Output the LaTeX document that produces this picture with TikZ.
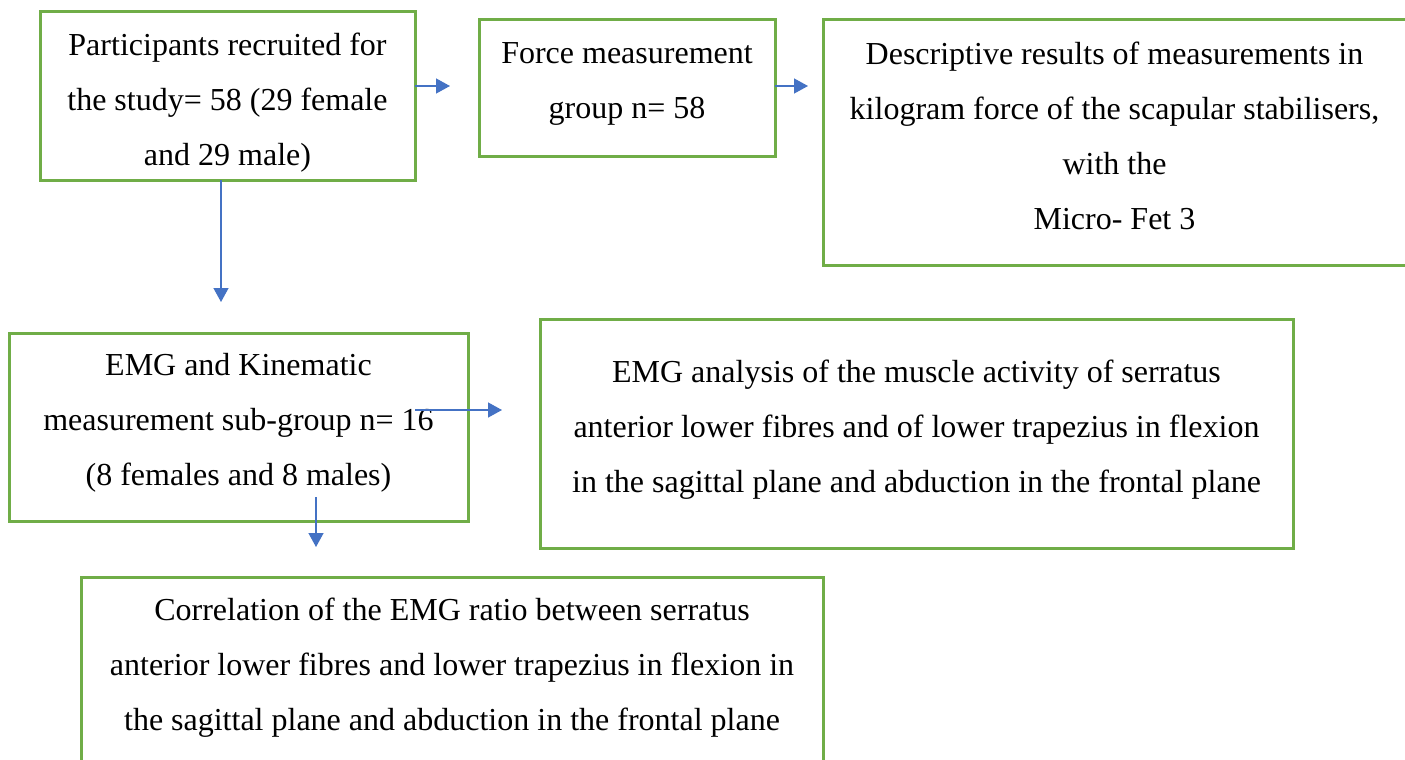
\documentclass[tikz,border=0pt]{standalone}
\usepackage{fontspec}
\setmainfont{Liberation Serif}
\usetikzlibrary{arrows.meta}
\definecolor{boxgreen}{HTML}{70AD47}
\definecolor{arrowblue}{HTML}{4472C4}
\tikzset{
  box/.style={draw=boxgreen, line width=3pt, rectangle, anchor=north west, inner sep=0pt, outer sep=0pt},
  txt/.style={align=center, font=\fontsize{32}{55}\selectfont, inner sep=0pt},
  conn/.style={draw=arrowblue, line width=1.4pt, -{Triangle[length=14pt,width=15pt]}}
}
\begin{document}
\begin{tikzpicture}[x=1pt,y=-1pt]
\useasboundingbox (0,0) rectangle (1405,760);
% boxes
\node[box, minimum width=375pt, minimum height=168pt] (b1) at (40,12) {};
\node[box, minimum width=296pt, minimum height=136pt] (b2) at (479,20) {};
\node[box, minimum width=583pt, minimum height=245pt] (b3) at (823,20) {};
\node[box, minimum width=459pt, minimum height=188pt] (b4) at (9,333) {};
\node[box, minimum width=753pt, minimum height=229pt] (b5) at (540,319) {};
\node[box, minimum width=742pt, minimum height=186pt] (b6) at (81,577) {};
% texts
\node[txt] (t1) at (227.5,102.5) {Participants recruited for\\the study= 58 (29 female\\and 29 male)};
\node[txt] (t2) at (627,83.5) {Force measurement\\group n= 58};
\node[txt] (t3) at (1114.5,136) {Descriptive results of measurements in\\kilogram force of the scapular stabilisers,\\with the\\Micro- Fet 3};
\node[txt] (t4) at (238.5,423) {EMG and Kinematic\\measurement sub-group n= 16\\(8 females and 8 males)};
\node[txt] (t5) at (916.5,429.5) {EMG analysis of the muscle activity of serratus\\anterior lower fibres and of lower trapezius in flexion\\in the sagittal plane and abduction in the frontal plane};
\node[txt] (t6) at (452,667.5) {Correlation of the EMG ratio between serratus\\anterior lower fibres and lower trapezius in flexion in\\the sagittal plane and abduction in the frontal plane};
% arrow end points
\coordinate (e1) at (450,86);
\coordinate (e2) at (808,86);
\coordinate (e3) at (221,302);
\coordinate (s4) at (415,410);
\coordinate (e4) at (502,410);
\coordinate (s5) at (316,497);
\coordinate (e5) at (316,547);
% connectors
\draw[conn] (b1.east |- e1) -- (e1);
\draw[conn] (b2.east |- e2) -- (e2);
\draw[conn] (b1.south -| e3) -- (e3);
\draw[conn] (s4) -- (e4);
\draw[conn] (s5) -- (e5);
\end{tikzpicture}
\end{document}
